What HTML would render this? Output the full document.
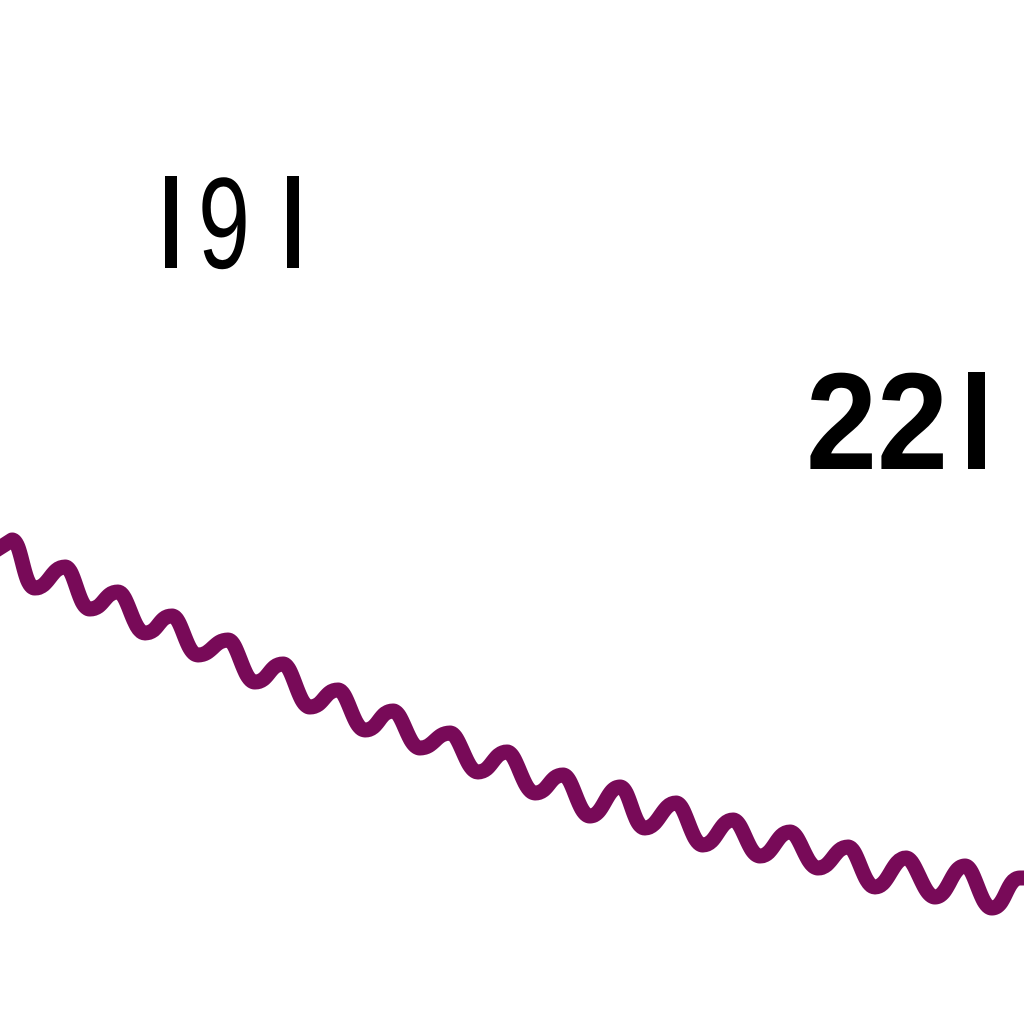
<!DOCTYPE html>
<html><head><meta charset="utf-8"><style>
html,body{margin:0;padding:0;background:#fff;width:1024px;height:1024px;overflow:hidden}
svg{display:block}
</style></head><body>
<svg id="chart" width="1024" height="1024" viewBox="0 0 1024 1024" xmlns="http://www.w3.org/2000/svg">
<g>
<rect x="165" y="176" width="12" height="92" fill="#000"/>
<text x="198" y="268" font-family="Liberation Sans, sans-serif" font-size="130" textLength="52" lengthAdjust="spacingAndGlyphs" fill="#000">9</text>
<rect x="287" y="176" width="12" height="92" fill="#000"/>
</g>
<g>
<text x="806" y="469" font-family="Liberation Sans, sans-serif" font-weight="bold" font-size="138" textLength="142" lengthAdjust="spacingAndGlyphs" fill="#000">22</text>
<rect x="968" y="372" width="17" height="97" fill="#000"/>
</g>
</svg>
<script>
const peakX=[12,65,118,172,228,283,338,393,450,507,563,620,676,733,790,848,906,965,1020];
const peakY=[540,567,592,616,640,664,690,711,733,752,775,787,803,820,832,847,858,866,878];
const troughX=[35,90,145,198,255,310,365,420,478,535,590,645,703,760,818,875,935,992];
const troughY=[588,609,633,655,682,707,730,748,772,793,816,828,845,856,868,887,897,908];
const svg=document.getElementById('chart');
let d='M -10 '+(peakY[0]+14)+' L '+peakX[0]+' '+peakY[0];
for(let i=0;i<troughX.length;i++){
  const px=peakX[i],py=peakY[i],tx=troughX[i],ty=troughY[i],nx=peakX[i+1],ny=peakY[i+1];
  d+=' C '+(px+10)+' '+py+' '+(tx-12)+' '+(ty)+' '+tx+' '+ty;
  d+=' C '+(tx+14)+' '+ty+' '+(nx-14)+' '+ny+' '+nx+' '+ny;
}
d+=' L 1040 '+(peakY[peakY.length-1]);
const p=document.createElementNS('http://www.w3.org/2000/svg','path');
p.setAttribute('d',d);
p.setAttribute('fill','none');
p.setAttribute('stroke','#780a58');
p.setAttribute('stroke-width','15');
p.setAttribute('stroke-linejoin','round');


svg.appendChild(p);
</script>
</body></html>
